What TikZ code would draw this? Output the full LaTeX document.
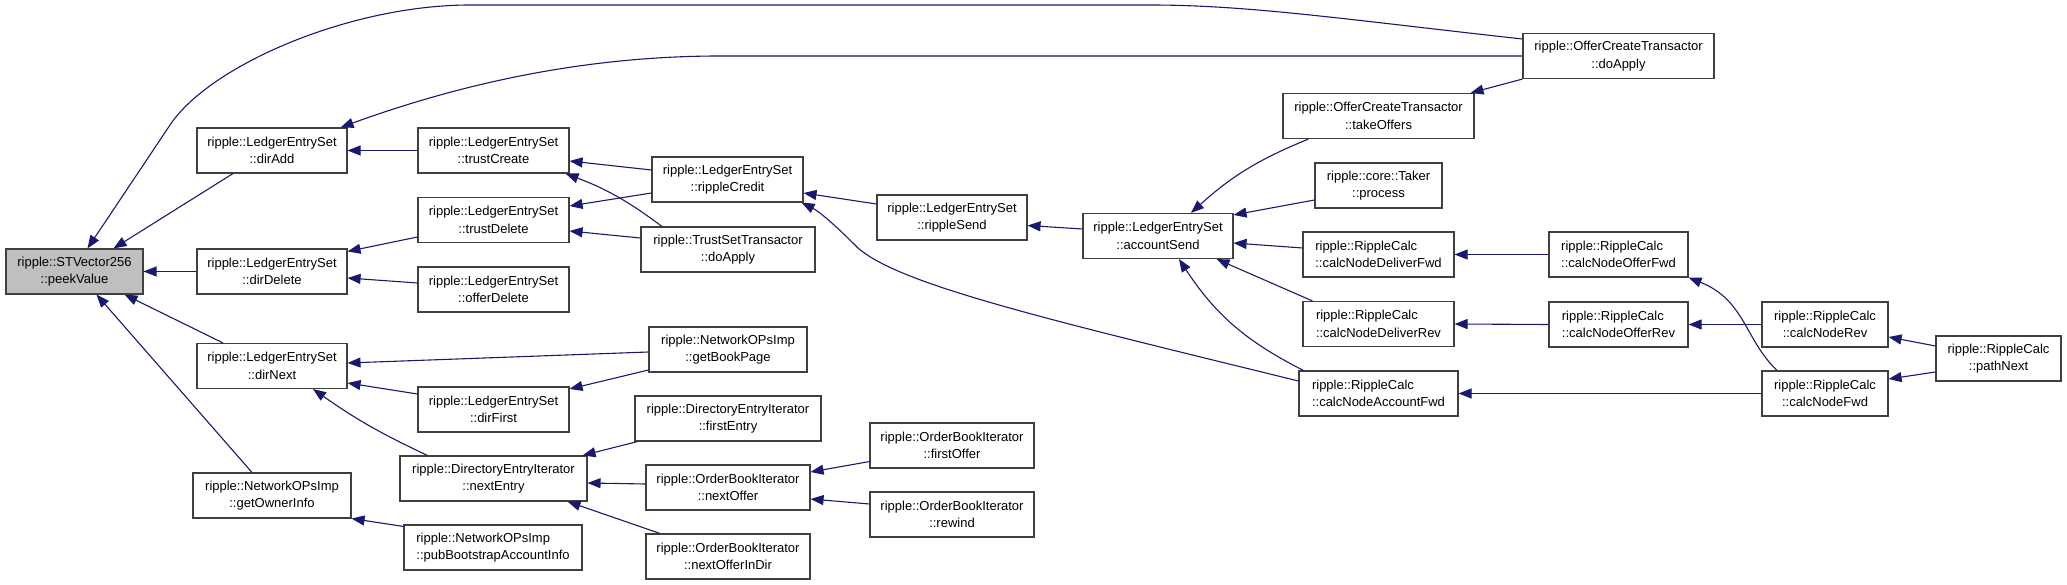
\documentclass[tikz,border=0pt]{standalone}
\usepackage{fontspec}
\setmainfont{Liberation Sans}
\usetikzlibrary{arrows.meta}
\definecolor{callblue}{HTML}{191970}

\begin{document}
\begin{tikzpicture}[x=1pt, y=-1pt,
  fn/.style={draw=black!75, line width=1.1pt, fill=white, inner sep=0pt,
             minimum height=45pt, align=center,
             font=\fontsize{13}{17.3}\selectfont},
  fnl/.style={fn, align=left},
  call/.style={callblue, line width=1.1pt, -{Triangle[length=13pt, width=10pt]}}]
\useasboundingbox (0,0) rectangle (2067,585);

% the function itself
\node[fn, fill=black!25, minimum width=137pt] (peekValue) at (74.5,271.5) {ripple::STVector256\\::peekValue};

% first callers
\node[fn, minimum width=150pt] (dirAdd)       at (272,150.5) {ripple::LedgerEntrySet\\::dirAdd};
\node[fn, minimum width=150pt] (dirDelete)    at (272,271.5) {ripple::LedgerEntrySet\\::dirDelete};
\node[fn, minimum width=150pt] (dirNext)      at (272,366)   {ripple::LedgerEntrySet\\::dirNext};
\node[fn, minimum width=158pt] (getOwnerInfo) at (272,495.5) {ripple::NetworkOPsImp\\::getOwnerInfo};

% second column
\node[fn, minimum width=151pt] (trustCreate)  at (493.5,150.5) {ripple::LedgerEntrySet\\::trustCreate};
\node[fn, minimum width=151pt] (trustDelete)  at (493.5,220)   {ripple::LedgerEntrySet\\::trustDelete};
\node[fn, minimum width=151pt] (offerDelete)  at (493.5,289.5) {ripple::LedgerEntrySet\\::offerDelete};
\node[fn, minimum width=151pt] (dirFirst)     at (493.5,409.5) {ripple::LedgerEntrySet\\::dirFirst};
\node[fn, minimum width=187pt] (nextEntry)    at (493.5,478.5) {ripple::DirectoryEntryIterator\\::nextEntry};
\node[fnl, minimum width=178pt] (pubBootstrap) at (493,547.5)  {ripple::NetworkOPsImp\\::pubBootstrapAccountInfo};

% third column
\node[fn, minimum width=151pt] (rippleCredit)   at (727.5,179.5) {ripple::LedgerEntrySet\\::rippleCredit};
\node[fn, minimum width=174pt] (trustSetApply)  at (728,249.5)   {ripple::TrustSetTransactor\\::doApply};
\node[fn, minimum width=158pt] (getBookPage)    at (728,349.5)   {ripple::NetworkOPsImp\\::getBookPage};
\node[fn, minimum width=186pt] (firstEntry)     at (728,418.5)   {ripple::DirectoryEntryIterator\\::firstEntry};
\node[fn, minimum width=164pt] (nextOffer)      at (728,487.5)   {ripple::OrderBookIterator\\::nextOffer};
\node[fn, minimum width=164pt] (nextOfferInDir) at (728,556.5)   {ripple::OrderBookIterator\\::nextOfferInDir};

% fourth and fifth column
\node[fn, minimum width=150pt] (rippleSend)  at (952,217.5)  {ripple::LedgerEntrySet\\::rippleSend};
\node[fn, minimum width=164pt] (firstOffer)  at (952,445.5)  {ripple::OrderBookIterator\\::firstOffer};
\node[fn, minimum width=164pt] (rewind)      at (952,514.5)  {ripple::OrderBookIterator\\::rewind};
\node[fn, minimum width=150pt] (accountSend) at (1158,236)   {ripple::LedgerEntrySet\\::accountSend};

% callers of accountSend
\node[fn, minimum width=191pt]  (takeOffers) at (1378.5,116)   {ripple::OfferCreateTransactor\\::takeOffers};
\node[fn, minimum width=127pt]  (process)    at (1378.5,185.5) {ripple::core::Taker\\::process};
\node[fnl, minimum width=151pt] (deliverFwd) at (1378.5,254.5) {ripple::RippleCalc\\::calcNodeDeliverFwd};
\node[fnl, minimum width=151pt] (deliverRev) at (1378.5,324)   {ripple::RippleCalc\\::calcNodeDeliverRev};
\node[fnl, minimum width=159pt] (accountFwd) at (1378.5,393.5) {ripple::RippleCalc\\::calcNodeAccountFwd};

% right side
\node[fn, minimum width=191pt]  (offerCreateApply) at (1618.5,56) {ripple::OfferCreateTransactor\\::doApply};
\node[fnl, minimum width=139pt] (offerFwd) at (1618.5,254.5) {ripple::RippleCalc\\::calcNodeOfferFwd};
\node[fnl, minimum width=139pt] (offerRev) at (1618.5,324.5) {ripple::RippleCalc\\::calcNodeOfferRev};
\node[fn, minimum width=126pt]  (nodeRev)  at (1825,324.5)   {ripple::RippleCalc\\::calcNodeRev};
\node[fn, minimum width=126pt]  (nodeFwd)  at (1825,393.5)   {ripple::RippleCalc\\::calcNodeFwd};
\node[fn, minimum width=125pt]  (pathNext) at (1998.5,358.5) {ripple::RippleCalc\\::pathNext};

% calls into peekValue
\draw[call] ([yshift=17pt]offerCreateApply.west) .. controls (1350,20) and (1250,5) .. (1150,5)
  -- (470,5) .. controls (350,5) and (210,65) .. (170,125) -- ([xshift=13pt]peekValue.north);
\draw[call] ([xshift=-39pt]dirAdd.south) -- ([xshift=39pt]peekValue.north);
\draw[call] (dirDelete.west) -- (peekValue.east);
\draw[call] ([xshift=-49pt]dirNext.north) -- ([xshift=50pt]peekValue.south);
\draw[call] ([xshift=-20pt]getOwnerInfo.north) -- ([xshift=22pt]peekValue.south);

% second level
\draw[call] (trustCreate.west) -- (dirAdd.east);
\draw[call] (offerCreateApply.west) -- (720,56) .. controls (560,56) and (430,95) .. ([xshift=-7pt]dirAdd.north east);
\draw[call] ([yshift=-17pt]trustDelete.west) -- ([yshift=-3pt]dirDelete.north east);
\draw[call] ([yshift=6.5pt]offerDelete.west) -- ([yshift=-6.5pt]dirDelete.east);
\draw[call] ([yshift=-2.5pt]getBookPage.west) -- ([yshift=3pt]dirNext.east);
\draw[call] ([yshift=15.5pt]dirFirst.west) -- ([yshift=-17pt]dirNext.east);
\draw[call] ([xshift=-66pt]nextEntry.north) to[bend left=5] ([xshift=41pt]dirNext.south);
\draw[call] ([yshift=-2pt]pubBootstrap.north west) -- (getOwnerInfo.south east);

% third level
\draw[call] ([yshift=9.5pt]rippleCredit.west) -- ([yshift=-10.5pt]trustCreate.east);
\draw[call] ([xshift=-66pt]trustSetApply.north) to[bend right=8] ([xshift=-4pt]trustCreate.south east);
\draw[call] ([yshift=-13.5pt]rippleCredit.west) -- ([yshift=14pt]trustDelete.east);
\draw[call] ([yshift=11.5pt]trustSetApply.west) -- ([yshift=-11pt]trustDelete.east);
\draw[call] ([yshift=-20.5pt]getBookPage.west) -- ([yshift=20.5pt]dirFirst.east);
\draw[call] ([xshift=3pt]firstEntry.south west) -- ([xshift=-5pt]nextEntry.north east);
\draw[call] ([yshift=3.5pt]nextOffer.west) -- ([yshift=-4.5pt]nextEntry.east);
\draw[call] ([xshift=-68pt]nextOfferInDir.north) -- ([xshift=-20pt]nextEntry.south east);
\draw[call] ([yshift=7pt]firstOffer.south west) -- ([yshift=15.5pt]nextOffer.east);
\draw[call] ([yshift=10.5pt]rewind.west) -- ([yshift=-11.5pt]nextOffer.east);

% rippleCredit and accountSend
\draw[call] ([yshift=13.5pt]rippleSend.west) -- ([yshift=-13.5pt]rippleCredit.east);
\draw[call] ([yshift=12.5pt]accountFwd.west) .. controls (1050,320) and (900,285) .. (858,248)
  .. controls (835,225) and (820,212) .. ([xshift=-2pt]rippleCredit.south east);
\draw[call] ([yshift=7pt]accountSend.west) -- ([yshift=-8pt]rippleSend.east);
\draw[call] ([xshift=26pt]takeOffers.south west) to[bend right=10] ([xshift=33pt]accountSend.north);
\draw[call] ([yshift=-14.5pt]process.west) -- ([yshift=-2pt]accountSend.north east);
\draw[call] ([yshift=6.5pt]deliverFwd.west) -- ([yshift=-7pt]accountSend.east);
\draw[call] ([xshift=10pt]deliverRev.north west) -- ([xshift=-17pt]accountSend.south east);
\draw[call] ([xshift=5pt]accountFwd.north west) to[bend left=15] ([xshift=21pt]accountSend.south);

% RippleCalc chain
\draw[call] (offerCreateApply.south west) -- ([xshift=-4pt]takeOffers.north east);
\draw[call] (offerFwd.west) -- (deliverFwd.east);
\draw[call] (offerRev.west) -- (deliverRev.east);
\draw[call] (nodeFwd.west) -- (accountFwd.east);
\draw[call] (nodeRev.west) -- (offerRev.east);
\draw[call] ([xshift=-48pt]nodeFwd.north) .. controls (1745,340) and (1745,300) .. (offerFwd.south east);
\draw[call] ([yshift=12.5pt]pathNext.west) -- ([yshift=-12.5pt]nodeRev.east);
\draw[call] ([yshift=-13.5pt]pathNext.west) -- ([yshift=14.5pt]nodeFwd.east);
\end{tikzpicture}
\end{document}
